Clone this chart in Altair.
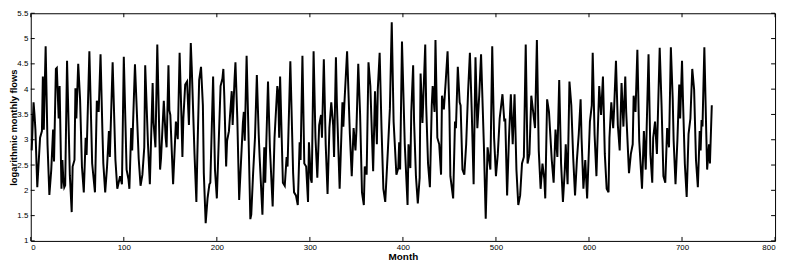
import altair as alt
import pandas as pd

months = [1,3,4,5,7,10,12,13,14,16,18,20,22,24,25,27,28,30,31,33,34,35,36,37,39,42,44,45,47,48,49,51,53,55,57,59,60,63,
66,69,71,73,75,77,78,80,82,84,85,88,91,93,96,98,100,103,105,106,108,109,112,116,118,120,122,123,126,128,
131,132,134,136,139,140,143,145,146,148,149,150,153,156,158,160,162,163,164,166,168,170,172,173,176,178,179,181,183,185,186,188,
190,192,193,196,198,200,204,206,207,208,210,211,213,216,217,219,220,222,224,228,229,230,232,234,236,237,239,241,243,245,246,249,
251,252,255,257,260,262,265,266,267,268,271,273,275,276,279,282,283,285,287,289,290,292,294,296,298,299,301,302,304,306,308,310,
312,313,315,317,319,321,323,325,326,328,329,332,335,336,337,340,343,345,347,349,350,352,354,356,358,359,361,363,365,366,368,370,
372,373,375,377,379,381,384,386,388,390,393,395,396,397,399,402,405,406,408,409,411,412,414,416,418,419,421,424,425,427,429,431,
432,434,435,437,439,441,442,444,446,448,450,451,454,456,457,459,461,462,464,466,468,470,472,474,476,478,480,482,484,487,489,491,
494,496,498,500,502,504,507,509,510,512,514,516,518,520,522,524,526,528,530,532,534,536,538,540,542,544,546,548,550,552,553,555,
557,560,562,564,566,568,570,572,574,575,577,579,581,583,585,587,589,591,592,594,596,598,600,601,603,604,606,608,609,611,613,615,
617,619,621,622,624,626,627,629,631,633,635,637,639,640,643,645,647,648,650,652,654,657,659,661,662,664,666,668,669,671,673,676,
678,680,682,684,686,688,690,691,693,695,697,698,700,701,703,705,707,709,711,713,715,717,719,720,721,722,724,726,727,729,730,732]

flows = [2.79,3.74,3.5,3.2,2.06,3.04,3.17,4.25,3.2,4.85,2.91,1.91,2.4,3.2,2.57,4.4,4.42,3.42,4.06,2.03,2.6,2.22,2.06,2.1,4.56,2.3,1.57,2.47,2.6,4.02,3.42,4.5,3.8,2.47,1.96,3.04,2.7,4.75,
2.53,1.96,3.77,3.55,4.69,3.17,2.53,1.96,2.47,3.17,2.66,4.53,2.6,2.03,2.28,2.12,4.64,2.41,2.22,2.03,3.23,2.79,4.49,2.63,2.09,2.31,2.85,4.47,2.91,2.12,
4.12,3.33,2.85,4.88,2.41,2.63,3.77,3.04,2.85,4.47,3.58,3.49,2.12,3.36,3.01,4.72,3.42,2.66,3.42,4.09,4.15,3.29,4.91,4.44,2.72,1.77,2.66,4.18,4.44,3.68,2.34,1.35,
1.84,2.12,2.15,4.25,2.41,1.84,4.06,4.21,4.40,3.87,2.47,2.98,3.17,3.96,3.29,4.18,4.53,3.42,1.81,3.33,3.55,2.98,4.66,3.14,1.43,1.52,2.34,3.04,4.28,3.11,2.66,1.52,
2.85,2.15,4.15,2.85,1.68,3.04,4.06,3.93,3.04,4.25,2.15,2.09,2.66,2.47,4.55,2.34,1.96,1.90,1.71,2.95,2.6,4.66,2.53,2.47,1.77,2.95,2.22,2.15,4.75,3.04,2.25,3.29,
3.49,3.04,4.59,2.91,1.93,3.23,3.74,3.29,2.66,4.63,3.74,2.03,3.74,3.26,3.68,4.75,3.11,2.28,3.23,2.79,3.17,4.50,3.49,1.96,1.71,2.47,2.31,4.53,4.06,3.49,2.38,3.96,
2.91,3.99,4.72,3.23,2.03,1.77,2.85,3.61,5.32,3.36,2.31,2.44,2.95,2.41,4.94,2.91,1.71,2.91,2.44,3.55,4.47,3.36,2.28,1.74,2.25,4.31,3.33,4.88,3.68,2.53,2.06,3.68,
4.06,3.55,4.97,3.04,2.91,2.31,3.87,3.6,4.15,4.75,3.55,2.28,1.84,3.36,3.23,4.44,3.74,3.68,2.41,2.31,2.91,3.93,4.72,3.55,2.12,4.63,3.23,3.87,4.69,2.91,1.44,2.85,
2.41,4.85,3.04,2.28,2.72,3.42,3.90,3.36,3.42,1.90,3.04,3.90,2.91,3.90,2.41,1.71,1.90,2.53,2.66,4.88,2.53,2.72,3.87,3.55,3.23,4.97,2.79,2.03,2.53,2.22,1.84,3.80,
3.55,2.6,2.15,3.2,2.66,4.18,2.53,1.77,2.41,2.91,2.12,4.15,3.68,2.66,1.90,2.60,3.11,3.80,3.04,2.03,2.6,1.84,2.85,3.36,3.68,4.72,3.11,2.28,2.91,4.06,3.49,4.25,
2.72,2.03,1.96,3.04,3.74,3.23,3.61,4.56,3.29,2.79,4.12,3.26,4.25,3.55,2.34,2.72,2.91,3.87,3.55,4.78,2.98,2.03,3.17,2.41,3.23,4.69,2.72,2.15,3.04,3.36,2.72,4.82,
3.68,2.28,2.15,3.23,2.85,4.83,3.80,2.98,2.12,2.98,4.09,3.42,4.56,3.80,2.53,1.87,3.11,3.42,4.40,3.99,2.60,2.06,3.17,2.79,3.39,3.26,4.83,3.17,2.41,2.91,2.53,3.68]

x_ticks = [0, 100, 200, 300, 400, 500, 600, 700, 800]
y_ticks = [1, 1.5, 2, 2.5, 3, 3.5, 4, 4.5, 5, 5.5]

W, H = 752, 230
FONT = "Liberation Sans"

df = pd.DataFrame({"Month": months, "flow": flows})
xt = pd.DataFrame({"t": x_ticks})
yt = pd.DataFrame({"t": y_ticks})

xscale = alt.Scale(domain=[0, 800], nice=False, zero=False)
yscale = alt.Scale(domain=[1, 5.5], nice=False, zero=False)

xaxis = alt.Axis(values=x_ticks, title="Month", ticks=False, domain=False, grid=False,
                 labelOverlap=False, labelFontSize=8, labelPadding=3, titleFontSize=10,
                 titleFontWeight="bold", titlePadding=0, labelFont=FONT, titleFont=FONT,
                 labelColor="black", titleColor="black")
yaxis = alt.Axis(values=y_ticks, title="logarithmic monthly flows", ticks=False, domain=False, grid=False,
                 labelOverlap=False, format=".1~f", labelFontSize=8, labelPadding=3, titleFontSize=9.5,
                 titleFontWeight="bold", labelFont=FONT, titleFont=FONT, labelColor="black",
                 titleColor="black", titleX=-12, titleY=H / 2, titleAlign="center",
                 titleBaseline="bottom")

line = alt.Chart(df).mark_line(color="black", strokeWidth=2, interpolate="linear").encode(
    x=alt.X("Month:Q", scale=xscale, axis=xaxis, title="Month"),
    y=alt.Y("flow:Q", scale=yscale, axis=yaxis, title="logarithmic monthly flows"),
)

xb = alt.Chart(xt).mark_rule(color="black", strokeWidth=1).encode(
    x=alt.X("t:Q", scale=xscale, axis=xaxis, title="Month"), y=alt.value(H), y2=alt.value(H - 4))
xtop = alt.Chart(xt).mark_rule(color="black", strokeWidth=1).encode(
    x=alt.X("t:Q", scale=xscale, axis=xaxis, title="Month"), y=alt.value(0), y2=alt.value(4))
yl = alt.Chart(yt).mark_rule(color="black", strokeWidth=1).encode(
    y=alt.Y("t:Q", scale=yscale, axis=yaxis, title="logarithmic monthly flows"), x=alt.value(0), x2=alt.value(4))
yr = alt.Chart(yt).mark_rule(color="black", strokeWidth=1).encode(
    y=alt.Y("t:Q", scale=yscale, axis=yaxis, title="logarithmic monthly flows"), x=alt.value(W - 4), x2=alt.value(W))

chart = alt.layer(line, xb, xtop, yl, yr).properties(
    width=W, height=H,
    autosize=alt.AutoSizeParams(type="none"),
    padding={"left": 23, "top": 4, "right": 6, "bottom": 22},
).configure_view(stroke="black", strokeWidth=1)

chart.save("out.html", embed_options={"renderer": "svg", "actions": False})
